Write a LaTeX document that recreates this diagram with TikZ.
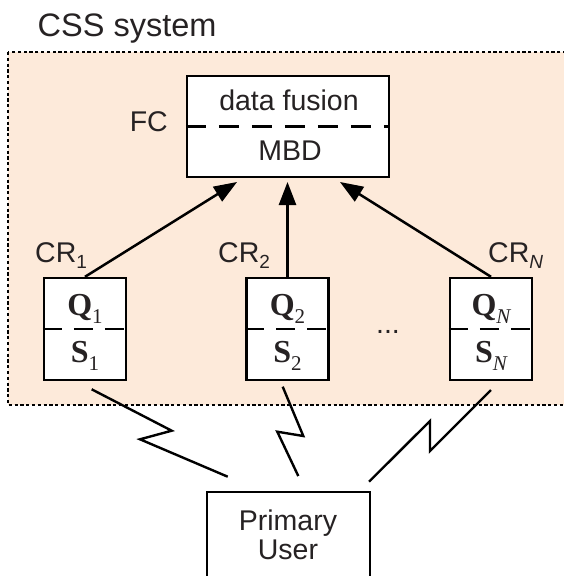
\documentclass[tikz,border=0pt]{standalone}
\usepackage{fontspec}
\setmainfont{Liberation Sans}
\newfontfamily\tms{Liberation Serif}
\usetikzlibrary{arrows.meta}
\definecolor{cssfill}{RGB}{253,234,218}
\definecolor{txt}{RGB}{38,34,35}

% sans subscript for the CR labels
\newcommand\crsub[1]{\raisebox{-0.22em}{\fontsize{19}{19}\selectfont #1}}
% bold serif vector symbol with a serif subscript
\newcommand\vsym[2]{{\tms\bfseries #1}\raisebox{-0.25em}{\fontsize{21}{21}\selectfont\tms #2}}

\tikzset{
  lbl/.style={inner sep=0pt, text=txt, font=\fontsize{28.5}{29.3}\selectfont},
  sym/.style={inner sep=0pt, text=txt, font=\fontsize{32}{32}\selectfont, anchor=base},
  box/.style={draw=black, line width=2.4pt, fill=white, inner sep=0pt},
  divider/.style={line width=2.2pt, dash pattern=on 19pt off 12pt},
  arr/.style={line width=2.5pt, -{Triangle[length=23pt,width=17pt]}},
  zig/.style={line width=2.4pt, line join=miter},
}

\begin{document}
\begin{tikzpicture}[x=1pt, y=-1pt]
  \useasboundingbox (0,0) rectangle (563,576);

  % CSS system region
  \draw[fill=cssfill, line width=2.5pt, dash pattern=on 3.2pt off 2.6pt]
    (8,52) rectangle (575,405);
  \node[lbl, anchor=base west, font=\fontsize{32.5}{32.5}\selectfont] (css) at (37.5,36) {CSS system};

  % fusion centre
  \node[box, minimum width=202pt, minimum height=101pt] (fc) at (288,126.5) {};
  \draw[line width=2.2pt, dash pattern=on 20pt off 13pt] (fc.west) -- (fc.east);
  \node[lbl, anchor=base] (df) at (289,110.5) {data fusion};
  \node[lbl, anchor=base] (mbd) at (290,160) {MBD};
  \node[lbl, anchor=base east] (fcl) at (168,131.5) {FC};

  % cognitive radios
  \node[box, minimum width=82pt, minimum height=102pt] (cr1) at (85,329) {};
  \node[box, minimum width=82pt, minimum height=102pt] (cr2) at (287.5,329) {};
  \node[box, minimum width=82pt, minimum height=102pt] (cr3) at (491,329) {};
  \foreach \b in {cr1,cr2,cr3}
    \draw[divider] (\b.west) -- (\b.east);

  \node[sym] (q1) at (85,315) {\vsym{Q}{1}};
  \node[sym] (s1) at (85,362.5) {\vsym{S}{1}};
  \node[sym] (q2) at (287.5,315) {\vsym{Q}{2}};
  \node[sym] (s2) at (287.5,362.5) {\vsym{S}{2}};
  \node[sym] (q3) at (491,315) {\vsym{Q}{\itshape N}};
  \node[sym] (s3) at (491,362.5) {\vsym{S}{\itshape N}};

  \node[lbl, anchor=base west] (l1) at (35,262) {CR\crsub{1}};
  \node[lbl, anchor=base west] (l2) at (218,262) {CR\crsub{2}};
  \node[lbl, anchor=base west] (l3) at (488,262) {CR\crsub{\itshape N}};
  \node[lbl, anchor=base] (dots) at (388,333) {...};

  % reports to the fusion centre
  \coordinate (t1) at (237,182);
  \coordinate (t2) at (287.5,182);
  \coordinate (t3) at (340,182);
  \draw[arr] (cr1.north) -- (t1);
  \draw[arr] (cr2.north) -- (t2);
  \draw[arr] (cr3.north) -- (t3);

  % primary user
  \node[box, minimum width=163pt, minimum height=110pt] (pu) at (288.3,546.7) {};
  \node[lbl, anchor=base] (pu1) at (288,530) {Primary};
  \node[lbl, anchor=base] (pu2) at (288,559.3) {User};

  % radio links
  \coordinate (a0) at (91.7,389.3);
  \coordinate (a3) at (227.7,476.7);
  \draw[zig] (a0) -- (171.7,430.7) -- (140,439.3) -- (a3);
  \coordinate (b0) at (282.7,386.7);
  \coordinate (b3) at (298.3,476);
  \draw[zig] (b0) -- (303.3,436) -- (277.3,431.7) -- (b3);
  \coordinate (c0) at (491,390);
  \coordinate (c3) at (369,481.7);
  \draw[zig] (c0) -- (430,451) -- (430,421) -- (c3);
\end{tikzpicture}
\end{document}
